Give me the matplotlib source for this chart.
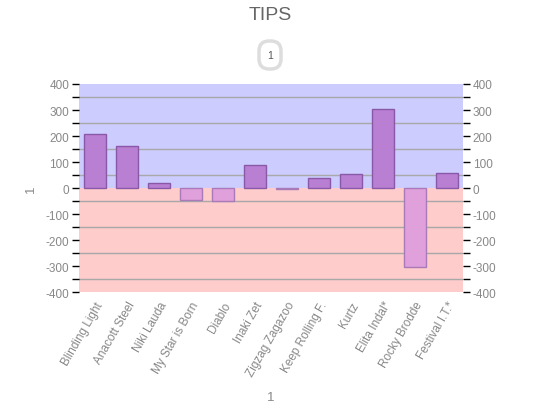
import numpy as np
import matplotlib
matplotlib.use("Agg")
import matplotlib.pyplot as plt
from matplotlib.patches import FancyBboxPatch
from matplotlib.transforms import IdentityTransform
from matplotlib.ticker import MultipleLocator

plt.rcParams['font.family'] = ['Liberation Sans', 'DejaVu Sans']

names = ["Blinding Light", "Anacott Steel", "Niki Lauda", "My Star is Born",
         "Diablo", "Inaki Zet", "Zigzag Zagazoo", "Keep Rolling F.",
         "Kurtz", "Elita Indal*", "Rocky Brodde", "Festival I.T.*"]
tips = [208, 162, 19, -47, -51, 88, -4, 38, 55, 304, -304, 59]

title = "TIPS"
series_name = "1"
x_label = "1"
y_label = "1"

fig = plt.figure(figsize=(5.4, 4.1), dpi=100)
ax = fig.add_axes([0.1463, 0.2846, 0.711, 0.5081])

x = np.arange(len(names))
ax.set_xlim(-0.5, len(names) - 0.5)
ax.set_ylim(-400, 400)

# two background bands
ax.axhspan(0, 400, color='#CCCCFF', zorder=0, lw=0)
ax.axhspan(-400, 0, color='#FFCCCC', zorder=0, lw=0)

# grid lines sit on the minor ticks
for g in [-350, -250, -150, -50, 50, 150, 250, 350]:
    ax.axhline(g, color='#A8A8A8', lw=1, zorder=1)

fills = ['#B97FD2' if v >= 0 else '#E0A0DC' for v in tips]
edges = ['#8A58A8' if v >= 0 else '#A87AB8' for v in tips]
ax.bar(x, tips, width=0.7, color=fills, edgecolor=edges, linewidth=1, zorder=2)

for s in ax.spines.values():
    s.set_visible(False)

ax.yaxis.set_major_locator(MultipleLocator(100))
ax.yaxis.set_minor_locator(MultipleLocator(50))
ax.tick_params(axis='y', which='both', direction='out', length=5, width=1,
               color='black', labelcolor='#888888', labelsize=8.5,
               left=True, right=True, labelleft=True, labelright=True, pad=2)
ax.set_yticks(range(-400, 401, 100))
ax.set_yticklabels([str(v) for v in range(-400, 401, 100)])

ax.set_xticks(x)
ax.set_xticklabels(names, rotation=60, ha='right', rotation_mode='anchor',
                   color='#888888', fontsize=8.5)
ax.tick_params(axis='x', length=0, pad=5)

fig.text(0.5, 0.963, title, ha='center', va='center', fontsize=14, color='#666666')
fig.text(0.502, 0.03, x_label, ha='center', va='center', fontsize=9.5, color='#888888')
fig.text(0.058, 0.538, y_label, ha='center', va='center', fontsize=9.5,
         color='#888888', rotation=90)

# legend pill
box = FancyBboxPatch((259, 410 - 70), 22, 28,
                     boxstyle='round,pad=0,rounding_size=10',
                     transform=IdentityTransform(), fc='white',
                     ec='#DDDDDD', lw=2.5)
fig.patches.append(box)
fig.text(0.5, 1 - 56 / 410, series_name, ha='center', va='center',
         fontsize=7.5, color='#555555')

fig.savefig("out.png", dpi=100)
